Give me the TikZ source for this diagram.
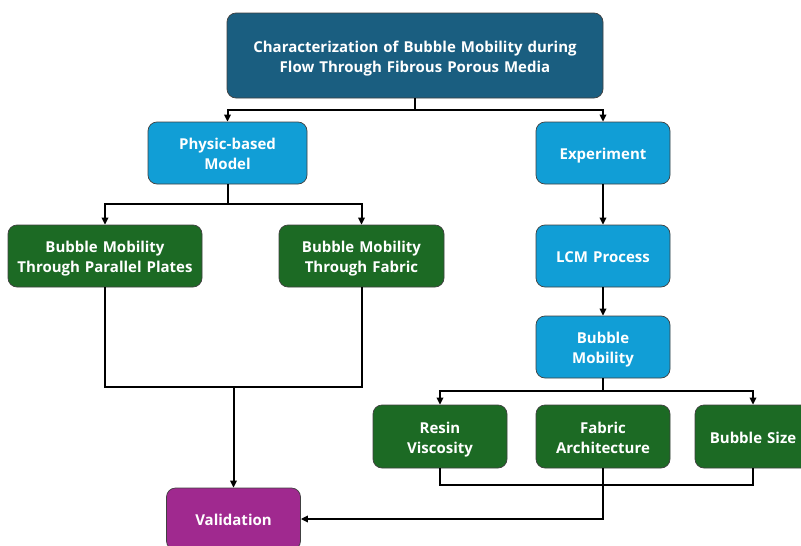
\documentclass[tikz,border=0pt]{standalone}
\usepackage{fontspec}
\setmainfont{Open Sans}
\usetikzlibrary{arrows.meta}
\definecolor{topblue}{HTML}{1A5E80}
\definecolor{lblue}{HTML}{119ED6}
\definecolor{dgreen}{HTML}{1C6A24}
\definecolor{purp}{HTML}{A0298F}
\tikzset{
  box/.style={rounded corners=9pt, draw=black!75, line width=0.7pt, text=white,
    font=\bfseries\fontsize{15}{20}\selectfont, align=center, inner sep=0pt,
    minimum height=62pt, minimum width=#1, text width=#1-6pt,
    execute at begin node={\rule{0pt}{18.5pt}},
    execute at end node={\rule[-4.7pt]{0pt}{4.7pt}}},
  box/.default=134pt,
  bluebox/.style={box=#1, fill=lblue},
  bluebox/.default=134pt,
  greenbox/.style={box=#1, fill=dgreen},
  greenbox/.default=134pt,
  conn/.style={line width=2pt, draw=black},
  arr/.style={conn, -{Triangle[length=7pt,width=6.5pt]}}
}
\begin{document}
\begin{tikzpicture}[x=1pt,y=-1pt]
\useasboundingbox (0,0) rectangle (801,546);
\fill[white] (0,0) rectangle (801,546);
\node[box=376pt, fill=topblue, minimum height=85pt] (top) at (415,55.5)
  {Characterization of Bubble Mobility during\\Flow Through Fibrous Porous Media};
\node[bluebox=159pt] (phys) at (227.5,153) {Physic-based\\Model};
\node[bluebox] (exp) at (603,153) {Experiment};
\node[greenbox=194pt] (pp) at (105,256) {Bubble Mobility\\Through Parallel Plates};
\node[greenbox=165pt] (tf) at (361.5,256) {Bubble Mobility\\Through Fabric};
\node[bluebox] (lcm) at (603,256) {LCM Process};
\node[bluebox] (bm) at (603,347) {Bubble\\Mobility};
\node[greenbox, minimum height=63pt] (rv) at (440,436.5) {Resin\\Viscosity};
\node[greenbox, minimum height=63pt] (fa) at (603,436.5) {Fabric\\Architecture};
\node[greenbox=116pt, minimum height=63pt] (bs) at (753,436.5) {Bubble Size};
\node[box, fill=purp] (val) at (233.5,519) {Validation};

\coordinate (j1) at (415,110);
\coordinate (j2) at (227.5,204);
\coordinate (j3) at (603,391);
\coordinate (j4) at (603,485);
\coordinate (j5) at (233.5,387);

\draw[conn] (top.south) -- (j1);
\draw[arr] (j1) -| (phys.north);
\draw[arr] (j1) -| (exp.north);
\draw[conn] (phys.south) -- (j2);
\draw[arr] (j2) -| (pp.north);
\draw[arr] (j2) -| (tf.north);
\draw[arr] (exp.south) -- (lcm.north);
\draw[arr] (lcm.south) -- (bm.north);
\draw[conn] (bm.south) -- (j3);
\draw[arr] (j3) -| (rv.north);
\draw[arr] (j3) -| (bs.north);
\draw[conn] (rv.south) -- (rv.south |- j4) -| (bs.south);
\draw[arr] (fa.south) |- (val.east);
\draw[conn] (pp.south) |- (j5) -| (tf.south);
\draw[arr] (j5) -- (val.north);
\end{tikzpicture}
\end{document}
